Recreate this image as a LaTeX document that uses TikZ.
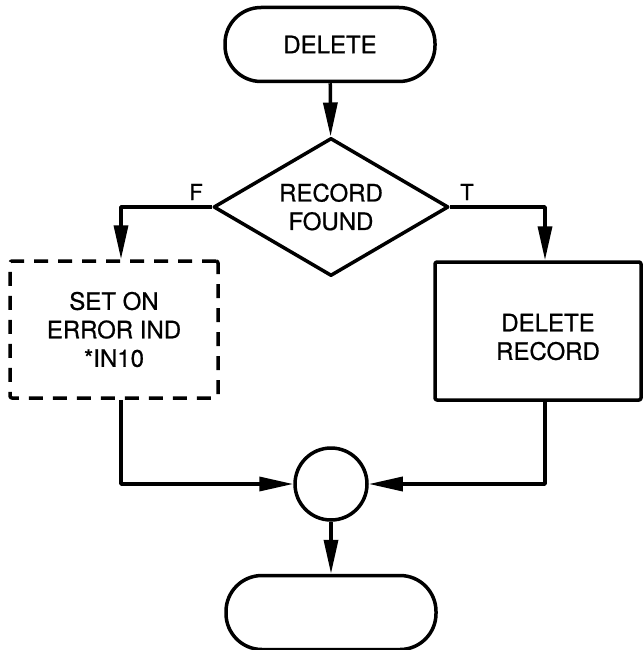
\documentclass[tikz,border=0pt]{standalone}
\usepackage{fontspec}
\setmainfont[FakeBold=0.7]{TeX Gyre Heros}
\usetikzlibrary{shapes.geometric,arrows.meta}
\begin{document}
\begin{tikzpicture}[x=1pt,y=-1pt,
  every node/.style={font=\fontsize{24}{28.5}\selectfont, align=center, line width=3.5pt, line join=round},
  terminal/.style={draw, rectangle, rounded corners=36pt, minimum width=210pt, minimum height=74pt},
  decision/.style={draw, diamond, aspect=1.7, inner sep=0pt, minimum width=235pt, minimum height=138pt},
  process/.style={draw, rectangle, rounded corners=2pt, minimum width=206pt, minimum height=138pt},
  optional/.style={process, dash pattern=on 14pt off 10pt, minimum width=208pt, minimum height=137pt},
  junction/.style={draw, circle, inner sep=0pt, minimum size=72pt},
  branch/.style={font=\fontsize{22}{24}\selectfont},
  flow/.style={line width=3.5pt, line join=round, -{Triangle[length=34pt,width=14pt]}},
  link/.style={line width=3.5pt, line join=round}
]
\useasboundingbox (0,0) rectangle (644,650);

% flowchart elements
\node[terminal] (start) at (330,44.5) {DELETE};
\node[decision] (found) at (331,207) {RECORD\\FOUND};
\node[optional] (errind) at (114,329.5) {SET ON\\ERROR IND\\*IN10};
\node[process] (delrec) at (538,331) {};
\node (delrectext) at (548,337) {DELETE\\RECORD};
\node[junction] (merge) at (331,484) {};
\node[terminal] (stop) at (331,612.5) {};

% branch labels
\node[branch] (flabel) at (196,192) {F};
\node[branch] (tlabel) at (467,192) {T};

% connectors
\draw[flow] (start) -- (found);
\draw[flow] (found.west) -| ([xshift=7pt]errind.north);
\draw[flow] (found.east) -| ([xshift=7pt]delrec.north);
\draw[flow] ([xshift=7pt]errind.south) |- (merge.west);
\draw[flow] ([xshift=7pt]delrec.south) |- (merge.east);
\draw[flow] (merge) -- (stop);
\end{tikzpicture}
\end{document}
